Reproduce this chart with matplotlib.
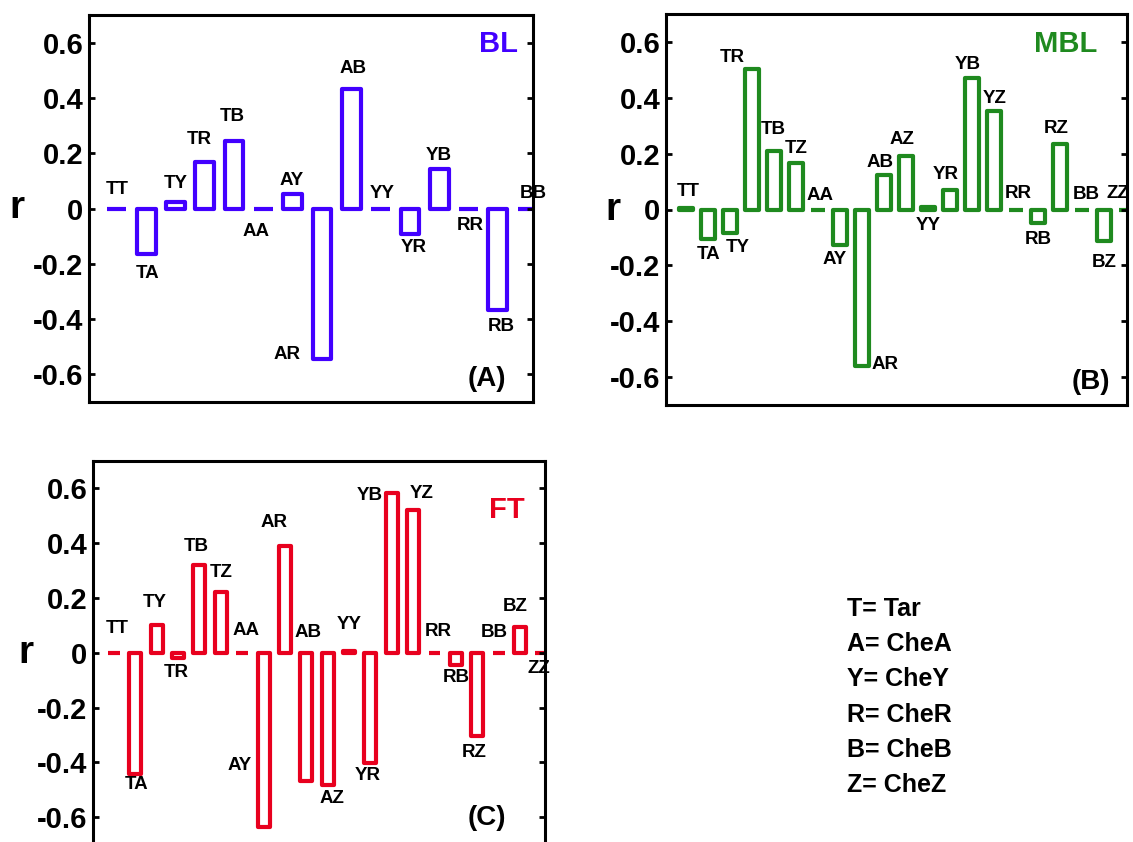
import matplotlib
matplotlib.use("Agg")
import matplotlib.pyplot as plt
import numpy as np

plt.rcParams['font.family'] = ['Liberation Sans', 'DejaVu Sans']
plt.rcParams['font.weight'] = 'bold'

# Correlation coefficients between protein pairs
pairs_bl = ['TT', 'TA', 'TY', 'TR', 'TB', 'AA', 'AY', 'AR', 'AB', 'YY',
            'YR', 'YB', 'RR', 'RB', 'BB']
r_bl = [0.0, -0.165, 0.025, 0.167, 0.245, 0.0, 0.054, -0.545, 0.432, 0.0,
        -0.094, 0.143, 0.0, -0.367, 0.0]

pairs_mbl = ['TT', 'TA', 'TY', 'TR', 'TB', 'TZ', 'AA', 'AY', 'AR', 'AB', 'AZ',
             'YY', 'YR', 'YB', 'YZ', 'RR', 'RB', 'RZ', 'BB', 'BZ', 'ZZ']
r_mbl = [0.005, -0.106, -0.085, 0.503, 0.209, 0.167, 0.0, -0.126, -0.562,
         0.125, 0.192, 0.01, 0.071, 0.471, 0.351, 0.0, -0.049, 0.234, 0.0,
         -0.114, 0.0]

pairs_ft = ['TT', 'TA', 'TY', 'TR', 'TB', 'TZ', 'AA', 'AY', 'AR', 'AB', 'AZ',
            'YY', 'YR', 'YB', 'YZ', 'RR', 'RB', 'RZ', 'BB', 'BZ', 'ZZ']
r_ft = [0.0, -0.441, 0.103, -0.02, 0.321, 0.221, 0.0, -0.635, 0.388, -0.468,
        -0.484, 0.005, -0.401, 0.582, 0.521, 0.0, -0.043, -0.305, 0.0, 0.094,
        0.0]

key_lines = ['T= Tar', 'A= CheA', 'Y= CheY', 'R= CheR', 'B= CheB', 'Z= CheZ']

# pixel offsets of each pair label from the end of its bar
offsets_bl = [(0, 19), (1, -19), (0, 18), (-6, 23), (-2, 24), (-7, -23),
              (-1, 13), (-35, 5), (2, 21), (2, 15), (4, -13), (0, 13),
              (2, -17), (3, -17), (6, 15)]
offsets_mbl = [(2, 17), (1, -15), (8, -14), (-20, 12), (-1, 22), (0, 14),
               (2, 14), (-5, -15), (23, 2), (-4, 12), (-4, 16), (0, -19),
               (-4, 15), (-4, 13), (1, 13), (2, 16), (0, -16), (-4, 16),
               (4, 15), (0, -21), (-8, 16)]
offsets_ft = [(3, 24), (1, -11), (-2, 22), (-2, -14), (-3, 18), (0, 20),
              (4, 22), (-24, 61), (-11, 24), (2, 148), (4, -13), (0, 27),
              (-3, -13), (-22, -2), (9, 17), (4, 21), (0, -13), (-3, -16),
              (-4, 20), (-5, 21), (-2, -16)]

fig = plt.figure(figsize=(11.33, 8.42), dpi=100)


def draw_panel(rect, pairs, values, offsets, color, name, tag, xlim,
               bar_width, name_pos, tag_pos, r_x):
    ax = fig.add_axes(rect)
    x = np.arange(1, len(pairs) + 1)
    bars = ax.bar(x, values, width=bar_width, facecolor='none',
                  edgecolor=color, linewidth=3.0)
    for b in bars:
        b.set_joinstyle('round')
    for xi, v, lab, (dx, dy) in zip(x, values, pairs, offsets):
        ax.annotate(lab, xy=(xi, v), xytext=(dx, dy),
                    textcoords='offset pixels', ha='center', va='center',
                    fontsize=13.5, fontweight='bold',
                    annotation_clip=False)
    ax.set_xlim(*xlim)
    ax.set_ylim(-0.7, 0.7)
    ax.set_xticks([])
    ticks = [-0.6, -0.4, -0.2, 0, 0.2, 0.4, 0.6]
    ax.set_yticks(ticks)
    ax.set_yticklabels(['-0.6', '-0.4', '-0.2', '0', '0.2', '0.4', '0.6'])
    ax.tick_params(axis='y', direction='in', length=4, width=2, right=True,
                   labelsize=21, pad=4)
    for lbl in ax.get_yticklabels():
        lbl.set_fontweight('bold')
    for sp in ax.spines.values():
        sp.set_linewidth(2.2)
    ax.set_ylabel('r', rotation=0, fontsize=28, fontweight='bold',
                  va='center', ha='center')
    ax.yaxis.set_label_coords(r_x, 0.5)
    ax.text(name_pos[0], name_pos[1], name, transform=ax.transAxes,
            ha='right', va='top', color=color, fontsize=21,
            fontweight='bold')
    ax.text(tag_pos[0], tag_pos[1], tag, transform=ax.transAxes,
            ha='right', va='center', fontsize=20, fontweight='bold')
    return ax


W, H = 1133.0, 842.0

ax_a = draw_panel([89 / W, (H - 402) / H, 444 / W, 387 / H],
                  pairs_bl, r_bl, offsets_bl, '#4200FF', 'BL', '(A)',
                  (0.05, 15.2), 0.64, (0.966, 0.962), (0.94, 0.06), -0.162)
ax_b = draw_panel([666 / W, (H - 405) / H, 461 / W, 391 / H],
                  pairs_mbl, r_mbl, offsets_mbl, '#1F8A1F', 'MBL', '(B)',
                  (0.09, 21.05), 0.6, (0.935, 0.96), (0.963, 0.06), -0.115)
ax_c = draw_panel([93 / W, (H - 844.5) / H, 452 / W, 383.5 / H],
                  pairs_ft, r_ft, offsets_ft, '#E8001E', 'FT', '(C)',
                  (0.02, 21.17), 0.56, (0.956, 0.91), (0.914, 0.07), -0.148)

# abbreviation key
for i, line in enumerate(key_lines):
    fig.text(847 / W, 1 - (609 + 35.2 * i) / H, line, ha='left',
             va='center', fontsize=18, fontweight='bold')

fig.savefig('out.png', dpi=100)
